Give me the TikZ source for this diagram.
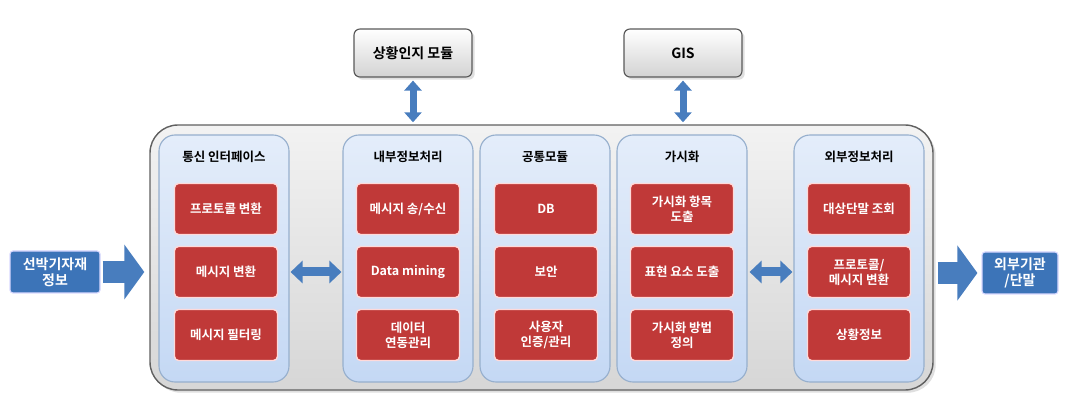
\documentclass[tikz,border=0pt]{standalone}
\usepackage{fontspec}
\setmainfont{Noto Sans CJK KR}[BoldFont={Noto Sans CJK KR Bold}]
\usetikzlibrary{arrows.meta,shadows}

\definecolor{boxred}{RGB}{192,57,56}
\definecolor{boxblue}{RGB}{60,116,184}
\definecolor{arrowblue}{RGB}{72,125,190}
\definecolor{paneltop}{RGB}{228,237,250}
\definecolor{panelbot}{RGB}{196,216,244}
\definecolor{panelline}{RGB}{150,175,205}

\begin{document}
\begin{tikzpicture}[x=1pt,y=-1pt,
	frame/.style={draw=gray!75!black,line width=0.5mm,rounded corners=28pt,top color=gray!10,bottom color=gray!32,minimum width=783pt,minimum height=265pt,drop shadow={opacity=0.25}},
	panel/.style={draw=panelline,line width=0.4mm,rounded corners=16pt,top color=paneltop,bottom color=panelbot,minimum width=130pt,minimum height=247pt},
	title/.style={font=\bfseries\fontsize{12.5}{15}\selectfont},
	func/.style={draw=red!15!white,line width=0.5mm,fill=boxred,rounded corners=4pt,minimum width=103pt,minimum height=51pt,text=white,align=center,font=\bfseries\fontsize{12.5}{15}\selectfont},
	outer/.style={draw=gray!70!black,line width=0.4mm,rounded corners=6pt,top color=white,bottom color=gray!35,minimum width=118pt,minimum height=48pt,font=\bfseries\fontsize{14}{16}\selectfont,drop shadow={opacity=0.25}},
	ext/.style={draw=blue!15!white,line width=0.4mm,fill=boxblue,rounded corners=3pt,text=white,align=center,minimum height=42pt,inner sep=1pt,font=\bfseries\fontsize{14}{16}\selectfont},
	twoway/.style={arrowblue,line width=9pt,{Triangle[width=22pt,length=12pt]}-{Triangle[width=22pt,length=12pt]}},
	updown/.style={arrowblue,line width=7pt,{Triangle[width=17pt,length=10pt]}-{Triangle[width=17pt,length=10pt]}},
	oneway/.style={arrowblue,line width=22pt,-{Triangle[width=54pt,length=20pt]}}]

	\useasboundingbox (0,0) rectangle (1085,414);

	\draw (541.5,257.5) node (frame) [frame] {};

	\draw (224,258.5) node (comm) [panel] {};
	\draw (408,258.5) node (inner) [panel] {};
	\draw (545,258.5) node (common) [panel] {};
	\draw (682,258.5) node (vis) [panel] {};
	\draw (859,258.5) node (outside) [panel] {};

	\draw (224,157) node (tcomm) [title] {통신 인터페이스};
	\draw (408,157) node (tinner) [title] {내부정보처리};
	\draw (545,157) node (tcommon) [title] {공통모듈};
	\draw (682,157) node (tvis) [title] {가시화};
	\draw (859,157) node (toutside) [title] {외부정보처리};

	\draw (226,209) node (c1) [func] {프로토콜 변환};
	\draw (226,272) node (c2) [func] {메시지 변환};
	\draw (226,335) node (c3) [func] {메시지 필터링};

	\draw (408,209) node (i1) [func] {메시지 송/수신};
	\draw (408,272) node (i2) [func] {Data mining};
	\draw (408,335) node (i3) [func] {데이터\\연동관리};

	\draw (546,209) node (m1) [func] {DB};
	\draw (546,272) node (m2) [func] {보안};
	\draw (546,335) node (m3) [func] {사용자\\인증/관리};

	\draw (682,209) node (v1) [func] {가시화 항목\\도출};
	\draw (682,272) node (v2) [func] {표현 요소 도출};
	\draw (682,335) node (v3) [func] {가시화 방법\\정의};

	\draw (859,209) node (o1) [func] {대상단말 조회};
	\draw (859,272) node (o2) [func] {프로토콜/\\메시지 변환};
	\draw (859,335) node (o3) [func] {상황정보};

	\draw (413,53) node (aware) [outer] {상황인지 모듈};
	\draw (683,53) node (gis) [outer] {GIS};

	\draw (55,272) node (ship) [ext,minimum width=90pt] {선박기자재\\정보};
	\draw (1020,273) node (agency) [ext,minimum width=76pt] {외부기관\\/단말};

	\draw[updown,shorten <=3pt,shorten >=2pt] (aware.south) -- (aware.south |- frame.north);
	\draw[updown,shorten <=3pt,shorten >=2pt] (gis.south) -- (gis.south |- frame.north);

	\draw[twoway,shorten <=1pt,shorten >=1pt] (comm.east |- c2) -- (inner.west |- c2);
	\draw[twoway,shorten <=2pt,shorten >=1pt] (vis.east |- v2) -- (outside.west |- v2);

	\draw[oneway,shorten <=2pt,shorten >=5pt] (ship.east) -- (ship.east -| frame.west);
	\draw[oneway,shorten <=4pt,shorten >=4pt] (agency.west -| frame.east) -- (agency.west);

\end{tikzpicture}
\end{document}
